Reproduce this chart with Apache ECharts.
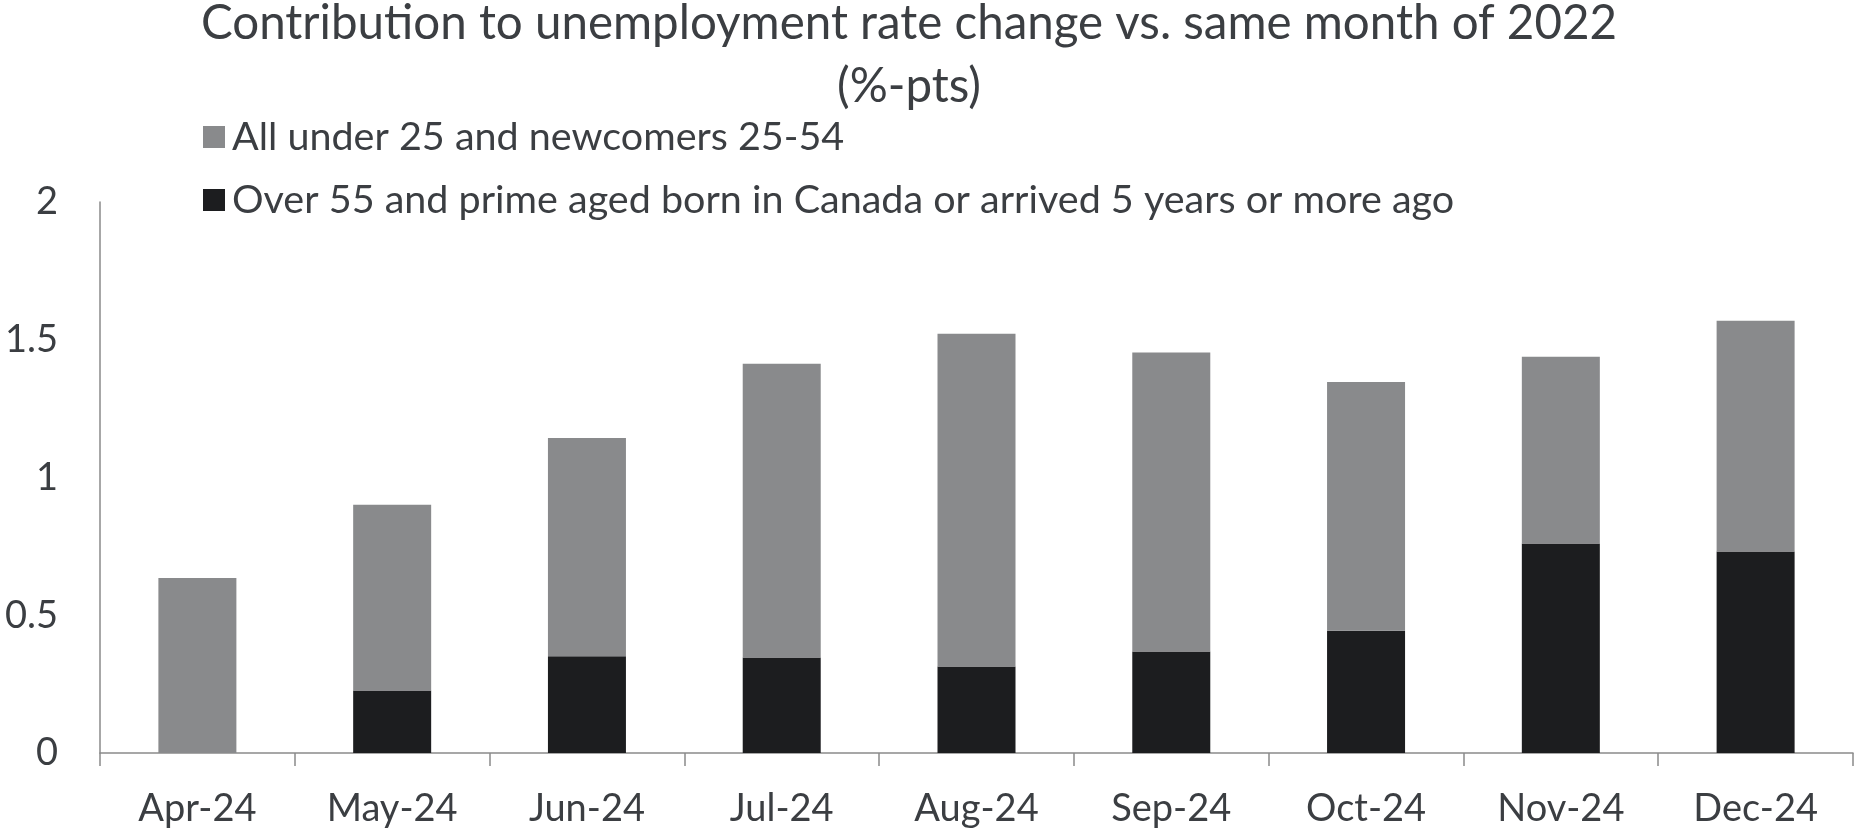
<!DOCTYPE html>
<html>
<head>
<meta charset="utf-8">
<script src="https://cdn.jsdelivr.net/npm/echarts@6/dist/echarts.min.js"></script>
<style>
html,body{margin:0;padding:0;background:#fff;}
#chart{width:1857px;height:836px;}
</style>
</head>
<body>
<div id="chart"></div>
<script>
const categories = ['Apr-24','May-24','Jun-24','Jul-24','Aug-24','Sep-24','Oct-24','Nov-24','Dec-24'];
const seriesNames = ['All under 25 and newcomers 25-54', 'Over 55 and prime aged born in Canada or arrived 5 years or more ago'];
// bottom segment (black)
const over55Prime = [0, 0.227, 0.351, 0.347, 0.314, 0.368, 0.444, 0.760, 0.731];
// stack totals
const totals = [0.635, 0.901, 1.143, 1.413, 1.522, 1.454, 1.347, 1.438, 1.569];
// top segment (grey) = total - bottom
const under25Newcomers = totals.map((t, i) => +(t - over55Prime[i]).toFixed(3));
const yTicks = [0, 0.5, 1, 1.5, 2];

const FONT = 'Lato';
const TXT = '#3b3e42';
const chart = echarts.init(document.getElementById('chart'), null, {renderer: 'canvas'});
chart.setOption({
  animation: false,
  backgroundColor: '#ffffff',
  title: {
    text: 'Contribution to unemployment rate change vs. same month of 2022\n(%-pts)',
    left: 904, top: -13, textAlign: 'center',
    textStyle: {fontFamily: FONT, fontSize: 47.5, fontWeight: 'normal', color: TXT, lineHeight: 63}
  },
  legend: {
    orient: 'vertical', left: 198, top: 112,
    itemWidth: 22, itemHeight: 22, itemGap: 23, icon: 'rect',
    data: [seriesNames[0], seriesNames[1]],
    textStyle: {fontFamily: FONT, fontSize: 39.5, color: TXT, lineHeight: 40, padding: [0,0,0,2]}
  },
  grid: {left: 100, right: 4, top: 202, bottom: 83, containLabel: false},
  xAxis: {
    type: 'category', data: categories,
    axisLine: {lineStyle: {color: '#8a8a8a', width: 1.5}},
    axisTick: {show: true, length: 13, lineStyle: {color: '#8a8a8a', width: 1.5}},
    axisLabel: {fontFamily: FONT, fontSize: 38, color: TXT, margin: 37}
  },
  yAxis: {
    type: 'value', min: 0, max: 2, interval: 0.5,
    axisLine: {show: true, lineStyle: {color: '#8a8a8a', width: 1.5}},
    axisTick: {show: false},
    splitLine: {show: false},
    axisLabel: {fontFamily: FONT, fontSize: 38, color: TXT, margin: 42,
      formatter: v => yTicks.includes(v) ? String(v) : ''}
  },
  series: [
    {name: seriesNames[1], type: 'bar', stack: 'a', data: over55Prime, barWidth: 78,
     itemStyle: {color: '#1c1d1f'}},
    {name: seriesNames[0], type: 'bar', stack: 'a', data: under25Newcomers, barWidth: 78,
     itemStyle: {color: '#898a8c'}}
  ]
});
</script>
</body>
</html>
